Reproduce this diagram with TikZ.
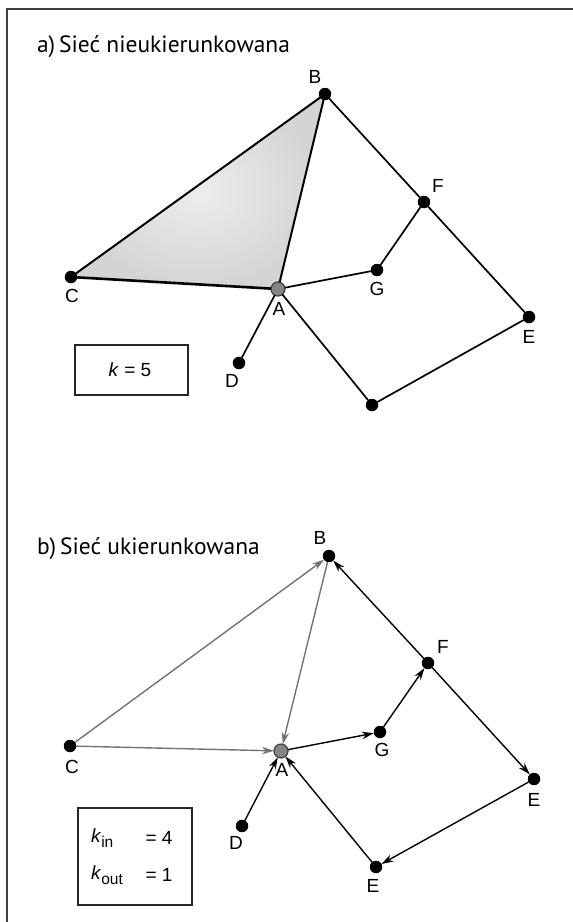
\documentclass[tikz,border=0pt]{standalone}
\usepackage{fontspec}
\setmainfont{Liberation Sans}
\newfontfamily\headfont{PT Sans}
\usetikzlibrary{arrows.meta,backgrounds}

\newcommand\degsub[1]{\raisebox{-0.45ex}{\fontsize{15.5}{15.5}\selectfont #1}}

\tikzset{
  dot/.style={circle, fill=black, minimum size=12.5pt},
  hub/.style={circle, draw=black!75, line width=1.2pt, fill=black!48, minimum size=14pt},
  lbl/.style={font=\fontsize{19}{19}\selectfont},
  heading/.style={anchor=base west, font=\headfont\fontsize{23.5}{23.5}\selectfont},
  box/.style={draw=black!85, line width=1.1pt},
  edge/.style={draw=black, line width=1.7pt, line join=round},
  arc/.style={draw=black, line width=1.4pt, -{Stealth[length=12pt,width=7.5pt]}},
  greyarc/.style={arc, draw=black!55},
}

\begin{document}
\begin{tikzpicture}[x=1pt, y=1pt, yscale=-1, inner sep=0pt, outer sep=0pt]
\useasboundingbox (0,0) rectangle (573,922);

\draw[line width=1.5pt, black!75] (7,922) -- (7,9) -- (573,9);

% a) undirected
\node[heading] (aTitle) at (37,52) {a)\,Sieć nieukierunkowana};

\node[dot] (aB) at (325,94) {};
\node[dot] (aF) at (424,202) {};
\node[dot] (aG) at (377,270) {};
\node[dot] (aC) at (71,277) {};
\node[hub] (aA) at (278,289) {};
\node[dot] (aD) at (239,363) {};
\node[dot] (aE) at (529,317) {};
\node[dot] (aH) at (372,405) {};

\node[lbl] (aBl) at (315,77) {B};
\node[lbl] (aFl) at (438,186) {F};
\node[lbl] (aGl) at (377,289) {G};
\node[lbl] (aCl) at (72,296) {C};
\node[lbl] (aAl) at (279,309) {A};
\node[lbl] (aDl) at (232,381) {D};
\node[lbl] (aEl) at (529,337) {E};

\begin{scope}[on background layer]
\shade[inner color=black!7, outer color=black!17]
  (aB.center) -- (aC.center) -- (aA.center) -- cycle;
\end{scope}

\draw[edge, line width=2pt] (aB) -- (aC);
\draw[edge, line width=2.6pt] (aC) -- (aA);
\draw[edge, line width=2pt] (aB) -- (aA);
\draw[edge] (aB) -- (aF);
\draw[edge] (aF) -- (aG);
\draw[edge] (aG) -- (aA);
\draw[edge] (aF) -- (aE);
\draw[edge] (aA) -- (aD);
\draw[edge] (aA) -- (aH);
\draw[edge] (aH) -- (aE);

\node[box, minimum width=113pt, minimum height=50pt] (aBox) at (131.5,370) {};
\node[lbl] (aK) at (130,370) {\textit{k} = 5};

% b) directed
\node[heading] (bTitle) at (37,554) {b)\,Sieć ukierunkowana};

\node[dot] (bB) at (329,556) {};
\node[dot] (bF) at (428,663) {};
\node[dot] (bG) at (380,732) {};
\node[dot] (bC) at (70,746) {};
\node[hub] (bA) at (281,751) {};
\node[dot] (bD) at (242,826) {};
\node[dot] (bE) at (534,779) {};
\node[dot] (bH) at (376,867) {};

\node[lbl] (bBl) at (320,538) {B};
\node[lbl] (bFl) at (443,647) {F};
\node[lbl] (bGl) at (382,750) {G};
\node[lbl] (bCl) at (72,767) {C};
\node[lbl] (bAl) at (282,770) {A};
\node[lbl] (bDl) at (236,843) {D};
\node[lbl] (bEl) at (534,800) {E};
\node[lbl] (bHl) at (373,886) {E};

\draw[greyarc] (bC) -- (bB);
\draw[greyarc] (bB) -- (bA);
\draw[greyarc] (bC) -- (bA);
\draw[arc] (bA) -- (bG);
\draw[arc] (bG) -- (bF);
\draw[arc] (bF) -- (bB);
\draw[arc] (bF) -- (bE);
\draw[arc] (bE) -- (bH);
\draw[arc] (bH) -- (bA);
\draw[arc] (bD) -- (bA);

\node[box, minimum width=114pt, minimum height=97pt] (bBox) at (135,856.5) {};
\node[lbl, anchor=west] (bKin) at (91,838) {\textit{k}\degsub{in}};
\node[lbl] (bKinV) at (159,838) {= 4};
\node[lbl, anchor=west] (bKout) at (91,875) {\textit{k}\degsub{out}};
\node[lbl] (bKoutV) at (159,875) {= 1};
\end{tikzpicture}
\end{document}
